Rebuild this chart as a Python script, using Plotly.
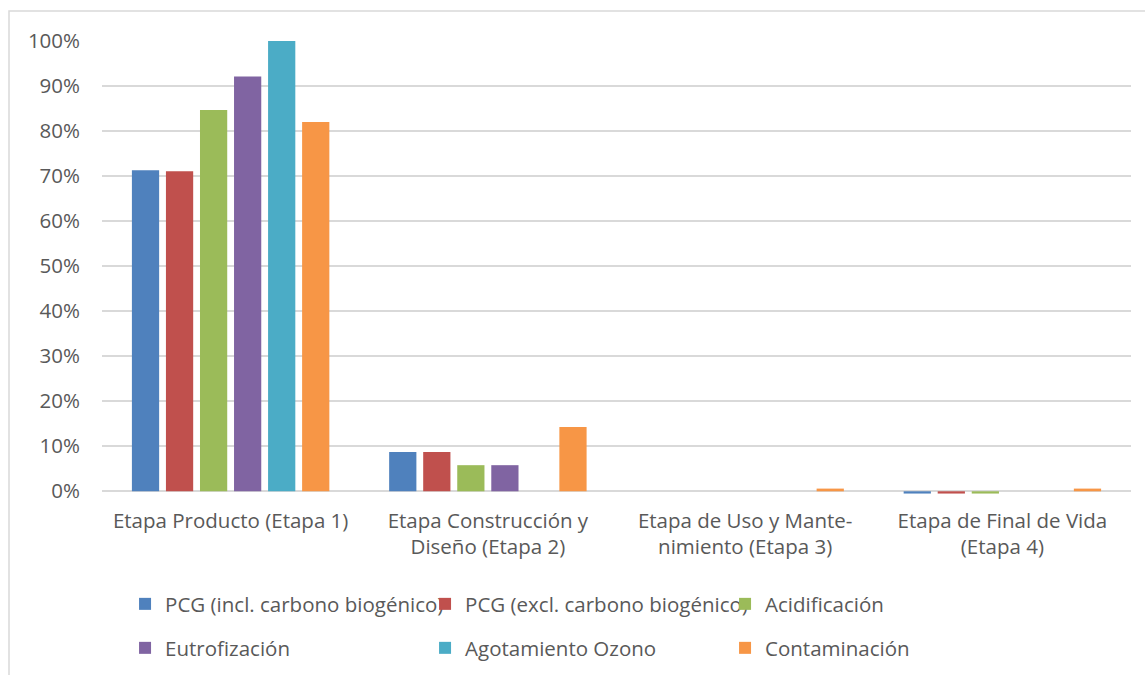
import plotly.graph_objects as go

# Life-cycle stages (category axis)
stages = [
    "Etapa Producto (Etapa 1)",
    "Etapa Construcción y<br>Diseño (Etapa 2)",
    "Etapa de Uso y Mante-<br>nimiento (Etapa 3)",
    "Etapa de Final de Vida<br>(Etapa 4)",
]

# Share of each impact category per stage (fraction of total)
pcg_incl = [0.713, 0.087, 0.0, -0.005]
pcg_excl = [0.711, 0.087, 0.0, -0.005]
acidificacion = [0.847, 0.058, 0.0, -0.005]
eutrofizacion = [0.921, 0.058, 0.0, 0.0]
agotamiento_ozono = [1.000, 0.0, 0.0, 0.0]
contaminacion = [0.820, 0.143, 0.006, 0.006]

series = [
    ("PCG (incl. carbono biogénico)", pcg_incl, "#4F81BD", "legend"),
    ("PCG (excl. carbono biogénico)", pcg_excl, "#C0504D", "legend"),
    ("Acidificación", acidificacion, "#9BBB59", "legend"),
    ("Eutrofización", eutrofizacion, "#8064A2", "legend2"),
    ("Agotamiento Ozono", agotamiento_ozono, "#4BACC6", "legend2"),
    ("Contaminación", contaminacion, "#F79646", "legend2"),
]

FONT = "Open Sans"
FS = 20.5
TXT = "#595959"
GRID = "#D9D9D9"

fig = go.Figure()
for name, vals, color, lg in series:
    fig.add_trace(go.Bar(
        name=name, x=stages, y=vals, marker_color=color,
        marker_line_width=0, legend=lg,
    ))

legend_common = dict(
    orientation="h", xanchor="left", yanchor="middle",
    font=dict(family=FONT, size=FS, color=TXT),
    entrywidth=255, entrywidthmode="pixels",
    bgcolor="rgba(0,0,0,0)", itemclick=False,
)

# plot area: x 102..1131 px, y 41..494 px
fig.update_layout(
    width=1145, height=675,
    margin=dict(l=102, r=14, t=41, b=181, autoexpand=False),
    paper_bgcolor="white", plot_bgcolor="white",
    barmode="group", bargap=0.206, bargroupgap=0.2,
    font=dict(family=FONT, size=FS, color=TXT),
    legend=dict(x=0.0224, y=-0.2429, **legend_common),
    legend2=dict(x=0.0224, y=-0.340, **legend_common),
    xaxis=dict(
        showgrid=False, showline=False, ticks="",
        tickfont=dict(family=FONT, size=FS, color=TXT),
        ticklabelstandoff=12,
    ),
    yaxis=dict(
        range=[-0.006, 1.0], tickvals=[i / 10 for i in range(11)],
        tickformat=".0%", showgrid=True, gridcolor=GRID, gridwidth=1.7,
        zeroline=True, zerolinecolor=GRID, zerolinewidth=1.7,
        showline=False, ticks="",
        tickfont=dict(family=FONT, size=FS, color=TXT),
        ticklabelstandoff=21,
    ),
    shapes=[dict(
        type="rect", xref="paper", yref="paper",
        x0=(9 - 102) / 1029, x1=(1160 - 102) / 1029,
        y0=(494 - 700) / 453, y1=(494 - 11) / 453,
        line=dict(color=GRID, width=1.5), fillcolor="rgba(0,0,0,0)", layer="below",
    )],
)

fig.write_html("out.html")
